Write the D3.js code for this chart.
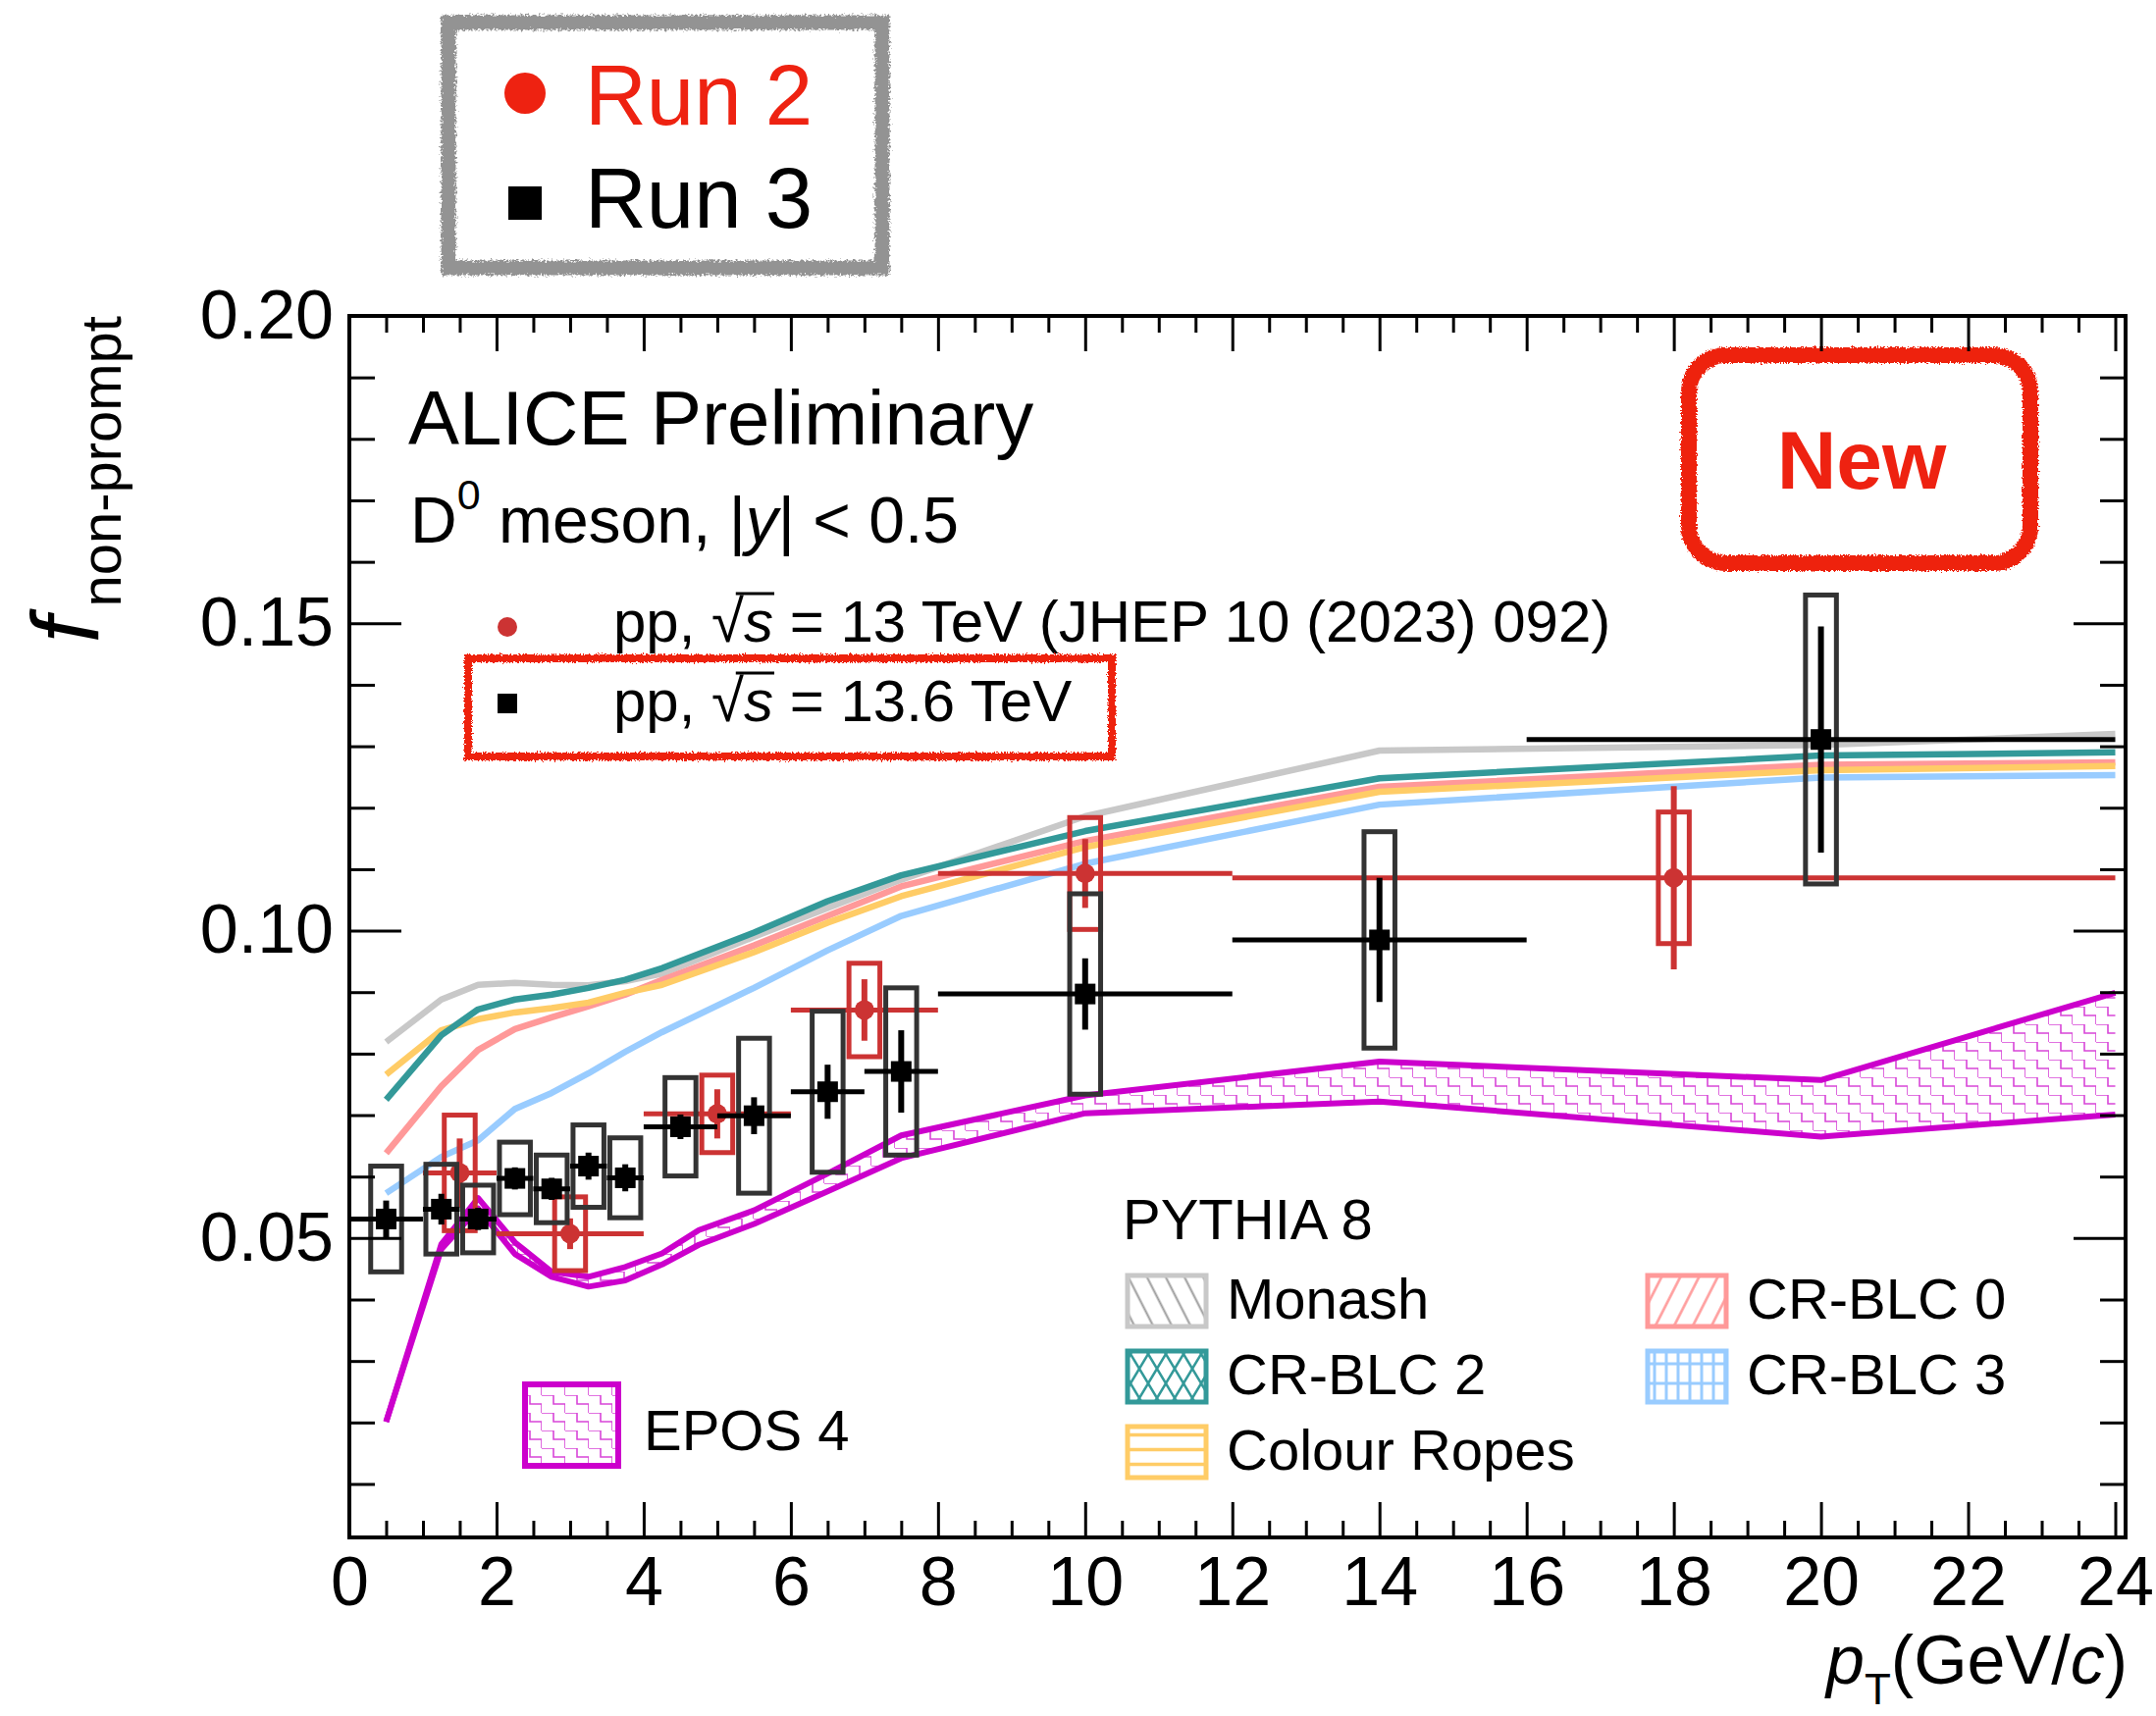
<!DOCTYPE html>
<html>
<head>
<meta charset="utf-8">
<title>Non-prompt D0 fraction vs pT</title>
<script src="https://cdn.jsdelivr.net/npm/d3@7/dist/d3.min.js"></script>
<style>
  html, body { margin: 0; padding: 0; background: #fff; }
  svg { display: block; }
  text { font-family: "Liberation Sans", Arimo, Helvetica, Arial, sans-serif; }
</style>
</head>
<body>
<svg id="chart" width="2197" height="1749"></svg>
<script>
// ---------------- measured non-prompt fractions ----------------
// pp, sqrt(s) = 13.6 TeV (Run 3)
const run3Pt   = [0.5, 1.25, 1.75, 2.25, 2.75, 3.25, 3.75, 4.5, 5.5, 6.5, 7.5, 10, 14, 20];
const run3PtLo = [0, 1, 1.5, 2, 2.5, 3, 3.5, 4, 5, 6, 7, 8, 12, 16];
const run3PtHi = [1, 1.5, 2, 2.5, 3, 3.5, 4, 5, 6, 7, 8, 12, 16, 24];
const run3Val  = [0.0531, 0.0547, 0.0531, 0.0597, 0.0580, 0.0617, 0.0598, 0.0681, 0.0699, 0.0738, 0.0771, 0.0897, 0.0985, 0.1311];
const run3Stat = [0.0030, 0.0025, 0.0018, 0.0018, 0.0018, 0.0022, 0.0022, 0.0020, 0.0030, 0.0044, 0.0067, 0.0058, 0.0101, 0.0184];
const run3Syst = [0.0086, 0.0073, 0.0055, 0.0059, 0.0055, 0.0067, 0.0065, 0.0080, 0.0126, 0.0131, 0.0136, 0.0163, 0.0176, 0.0235];

// pp, sqrt(s) = 13 TeV (Run 2, JHEP 10 (2023) 092)
const run2Pt   = [1.5, 3, 5, 7, 10, 18];
const run2PtLo = [1, 2, 4, 6, 8, 12];
const run2PtHi = [2, 4, 6, 8, 12, 24];
const run2Val  = [0.0606, 0.0507, 0.0702, 0.0871, 0.1093, 0.1086];
const run2Stat = [0.0056, 0.0025, 0.0040, 0.0050, 0.0056, 0.0149];
const run2Syst = [0.0094, 0.0060, 0.0063, 0.0076, 0.0091, 0.0107];

// ---------------- model predictions ----------------
const pythiaPt    = [0.5, 1.25, 1.75, 2.25, 2.75, 3.25, 3.75, 4.25, 5.5, 6.5, 7.5, 10, 14, 20, 24];
const monash      = [0.0819, 0.0888, 0.0912, 0.0915, 0.0912, 0.0911, 0.0918, 0.0930, 0.0990, 0.1037, 0.1083, 0.1186, 0.1293, 0.1302, 0.1320];
const crBlc0      = [0.0638, 0.0747, 0.0806, 0.0840, 0.0859, 0.0877, 0.0896, 0.0920, 0.0976, 0.1024, 0.1072, 0.1146, 0.1234, 0.1270, 0.1274];
const crBlc2      = [0.0725, 0.0830, 0.0872, 0.0888, 0.0896, 0.0907, 0.0920, 0.0939, 0.0997, 0.1048, 0.1090, 0.1162, 0.1248, 0.1285, 0.1290];
const crBlc3      = [0.0573, 0.0632, 0.0659, 0.0710, 0.0736, 0.0768, 0.0803, 0.0835, 0.0907, 0.0968, 0.1024, 0.1109, 0.1205, 0.1249, 0.1253];
const colourRopes = [0.0766, 0.0838, 0.0856, 0.0867, 0.0874, 0.0883, 0.0899, 0.0912, 0.0965, 0.1013, 0.1056, 0.1136, 0.1226, 0.1261, 0.1268];

const eposPt   = [0.5, 1.25, 1.75, 2.25, 2.75, 3.25, 3.75, 4.25, 4.75, 5.5, 6.5, 7.5, 10, 14, 20, 24];
const eposHigh = [0.0201, 0.0490, 0.0565, 0.0493, 0.0445, 0.0437, 0.0453, 0.0475, 0.0513, 0.0545, 0.0605, 0.0667, 0.0732, 0.0787, 0.0757, 0.0899];
const eposLow  = [0.0201, 0.0482, 0.0548, 0.0474, 0.0437, 0.0421, 0.0431, 0.0457, 0.0489, 0.0523, 0.0576, 0.0630, 0.0703, 0.0722, 0.0665, 0.0701];

// ---------------- axis ticks ----------------
const xMajorTicks = [0, 2, 4, 6, 8, 10, 12, 14, 16, 18, 20, 22, 24];
const yMajorTicks = [0.05, 0.10, 0.15, 0.20];

// ---------------- layout ----------------
const frame = { left: 356, right: 2166, top: 322, bottom: 1567 };
const svg = d3.select('#chart');
const x = d3.scaleLinear().domain([0, 24.14]).range([frame.left, frame.right]);
const y = d3.scaleLinear().domain([0.0013, 0.2]).range([frame.bottom, frame.top]);

const C = {
  monash: '#c8c8c8', blc0: '#ff9999', blc2: '#339999', blc3: '#99ccff', ropes: '#ffcc66',
  epos: '#cc00cc', run2: '#cc3333', run3: '#000000', box3: '#333333', mark: '#ee2211', gray: '#939393'
};

const defs = svg.append('defs');
defs.append('clipPath').attr('id', 'plotArea').append('rect')
  .attr('x', frame.left).attr('y', frame.top)
  .attr('width', frame.right - frame.left).attr('height', frame.bottom - frame.top);

// hatch patterns used by the model bands and legend swatches
function lineHatch(id, size, angle, color, width) {
  const p = defs.append('pattern').attr('id', id).attr('patternUnits', 'userSpaceOnUse')
    .attr('width', size).attr('height', size).attr('patternTransform', `rotate(${angle})`);
  p.append('rect').attr('width', size).attr('height', size).attr('fill', '#fff');
  p.append('line').attr('x1', size / 2).attr('x2', size / 2).attr('y1', 0).attr('y2', size)
    .attr('stroke', color).attr('stroke-width', width);
}
lineHatch('hMonash', 17, -27, '#9a9a9a', 2);
lineHatch('hBlc0', 17, 27, '#ff9999', 2.5);
{
  const p = defs.append('pattern').attr('id', 'hBlc2').attr('patternUnits', 'userSpaceOnUse')
    .attr('width', 18).attr('height', 30);
  p.append('rect').attr('width', 18).attr('height', 30).attr('fill', '#fff');
  p.append('path').attr('d', 'M0,0 L18,30 M18,0 L0,30').attr('stroke', C.blc2).attr('stroke-width', 2.5).attr('fill', 'none');
}
{
  const p = defs.append('pattern').attr('id', 'hBlc3').attr('patternUnits', 'userSpaceOnUse')
    .attr('width', 12).attr('height', 20);
  p.append('rect').attr('width', 12).attr('height', 20).attr('fill', '#fff');
  p.append('path').attr('d', 'M6,0 V20 M0,10 H12').attr('stroke', C.blc3).attr('stroke-width', 3).attr('fill', 'none');
}
{
  const p = defs.append('pattern').attr('id', 'hRopes').attr('patternUnits', 'userSpaceOnUse')
    .attr('width', 10).attr('height', 15);
  p.append('rect').attr('width', 10).attr('height', 15).attr('fill', '#fff');
  p.append('path').attr('d', 'M0,7.5 H10').attr('stroke', C.ropes).attr('stroke-width', 3.5);
}
{
  const p = defs.append('pattern').attr('id', 'hEpos').attr('patternUnits', 'userSpaceOnUse')
    .attr('width', 24).attr('height', 18);
  p.append('path').attr('d', 'M0,0 H12 V9 H24 V18').attr('stroke', '#d845d8').attr('stroke-width', 1.6).attr('fill', 'none');
}

// hand-drawn look for the annotation boxes
function roughFilter(id, freq, scale, seed) {
  const f = defs.append('filter').attr('id', id).attr('x', '-5%').attr('y', '-8%').attr('width', '110%').attr('height', '116%');
  f.append('feTurbulence').attr('type', 'fractalNoise').attr('baseFrequency', freq)
    .attr('numOctaves', 2).attr('seed', seed).attr('result', 'noise');
  f.append('feDisplacementMap').attr('in', 'SourceGraphic').attr('in2', 'noise')
    .attr('scale', scale).attr('xChannelSelector', 'R').attr('yChannelSelector', 'G');
}
roughFilter('roughA', 0.45, 8, 3);
roughFilter('roughB', 0.55, 6, 7);

// ---------------- annotation boxes above / inside the frame ----------------
svg.append('rect').attr('x', 457).attr('y', 23).attr('width', 442).attr('height', 250)
  .attr('fill', 'none').attr('stroke', C.gray).attr('stroke-width', 15).attr('filter', 'url(#roughA)');
svg.append('circle').attr('cx', 535).attr('cy', 95).attr('r', 21).attr('fill', C.mark);
svg.append('text').attr('x', 596).attr('y', 127).attr('font-size', 87).attr('fill', C.mark).text('Run 2');
svg.append('rect').attr('x', 518).attr('y', 190).attr('width', 34).attr('height', 34).attr('fill', '#000');
svg.append('text').attr('x', 596).attr('y', 232).attr('font-size', 87).attr('fill', '#000').text('Run 3');

svg.append('rect').attr('x', 1721).attr('y', 362).attr('width', 348).attr('height', 212).attr('rx', 38)
  .attr('fill', 'none').attr('stroke', C.mark).attr('stroke-width', 16).attr('filter', 'url(#roughB)');
svg.append('text').attr('x', 1897).attr('y', 498).attr('text-anchor', 'middle').attr('font-size', 84)
  .attr('font-weight', 'bold').attr('fill', C.mark).text('New');

// ---------------- model curves ----------------
const plot = svg.append('g').attr('clip-path', 'url(#plotArea)');
const line = d3.line().x(d => x(d[0])).y(d => y(d[1]));

const eposPts = eposPt.map((p, i) => ({ p, lo: eposLow[i], hi: eposHigh[i] }));
plot.append('path').datum(eposPts)
  .attr('d', d3.area().x(d => x(d.p)).y0(d => y(d.lo)).y1(d => y(d.hi)))
  .attr('fill', 'url(#hEpos)').attr('stroke', 'none');
[eposHigh, eposLow].forEach(arr => {
  plot.append('path').datum(eposPt.map((p, i) => [p, arr[i]])).attr('d', line)
    .attr('fill', 'none').attr('stroke', C.epos).attr('stroke-width', 6).attr('stroke-linejoin', 'round');
});

const pythiaCurves = [
  { vals: monash, color: C.monash },
  { vals: crBlc3, color: C.blc3 },
  { vals: crBlc0, color: C.blc0 },
  { vals: colourRopes, color: C.ropes },
  { vals: crBlc2, color: C.blc2 }
];
pythiaCurves.forEach(c => {
  plot.append('path').datum(pythiaPt.map((p, i) => [p, c.vals[i]])).attr('d', line)
    .attr('fill', 'none').attr('stroke', c.color).attr('stroke-width', 6.5).attr('stroke-linejoin', 'round');
});

// ---------------- data points ----------------
const boxHalf = 0.21;   // half width of systematic boxes in pT units
function drawSeries(pt, lo, hi, val, stat, syst, col, boxCol, marker) {
  const g = plot.append('g');
  pt.forEach((p, i) => {
    g.append('rect').attr('x', x(p - boxHalf)).attr('width', x(p + boxHalf) - x(p - boxHalf))
      .attr('y', y(val[i] + syst[i])).attr('height', y(val[i] - syst[i]) - y(val[i] + syst[i]))
      .attr('fill', 'none').attr('stroke', boxCol).attr('stroke-width', 5);
    g.append('line').attr('x1', x(lo[i])).attr('x2', x(hi[i])).attr('y1', y(val[i])).attr('y2', y(val[i]))
      .attr('stroke', col).attr('stroke-width', 5);
    g.append('line').attr('x1', x(p)).attr('x2', x(p)).attr('y1', y(val[i] - stat[i])).attr('y2', y(val[i] + stat[i]))
      .attr('stroke', col).attr('stroke-width', 6);
    if (marker === 'circle') {
      g.append('circle').attr('cx', x(p)).attr('cy', y(val[i])).attr('r', 10).attr('fill', col);
    } else {
      g.append('rect').attr('x', x(p) - 10.5).attr('y', y(val[i]) - 10.5).attr('width', 21).attr('height', 21).attr('fill', col);
    }
  });
}
drawSeries(run2Pt, run2PtLo, run2PtHi, run2Val, run2Stat, run2Syst, C.run2, C.run2, 'circle');
drawSeries(run3Pt, run3PtLo, run3PtHi, run3Val, run3Stat, run3Syst, C.run3, C.box3, 'square');

// ---------------- axes (ticks inside the frame, mirrored on top / right) ----------------
const xMinor = d3.range(0, 24.01, 0.5).filter(v => !xMajorTicks.includes(v));
const yMinor = d3.range(1, 20).map(v => v / 100).filter(v => !yMajorTicks.some(t => Math.abs(t - v) < 1e-9));

function styleAxis(g) {
  g.select('.domain').remove();
  g.selectAll('.tick line').attr('stroke', '#000').attr('stroke-width', 3);
  g.attr('font-size', 70).attr('font-family', '"Liberation Sans", Arimo, Helvetica, Arial, sans-serif');
  g.selectAll('.tick text').attr('fill', '#000');
}
const fmtX = d3.format('d'), fmtY = d3.format('.2f');

svg.append('g').attr('transform', `translate(0,${frame.bottom})`)
  .call(d3.axisBottom(x).tickValues(xMajorTicks).tickSize(-36).tickPadding(19).tickFormat(fmtX)).call(styleAxis);
svg.append('g').attr('transform', `translate(0,${frame.bottom})`)
  .call(d3.axisBottom(x).tickValues(xMinor).tickSize(-17).tickFormat('')).call(styleAxis);
svg.append('g').attr('transform', `translate(0,${frame.top})`)
  .call(d3.axisTop(x).tickValues(xMajorTicks).tickSize(-36).tickFormat('')).call(styleAxis);
svg.append('g').attr('transform', `translate(0,${frame.top})`)
  .call(d3.axisTop(x).tickValues(xMinor).tickSize(-17).tickFormat('')).call(styleAxis);

svg.append('g').attr('transform', `translate(${frame.left},0)`)
  .call(d3.axisLeft(y).tickValues(yMajorTicks).tickSize(-53).tickPadding(16).tickFormat(fmtY)).call(styleAxis);
svg.append('g').attr('transform', `translate(${frame.left},0)`)
  .call(d3.axisLeft(y).tickValues(yMinor).tickSize(-26).tickFormat('')).call(styleAxis);
svg.append('g').attr('transform', `translate(${frame.right},0)`)
  .call(d3.axisRight(y).tickValues(yMajorTicks).tickSize(-53).tickFormat('')).call(styleAxis);
svg.append('g').attr('transform', `translate(${frame.right},0)`)
  .call(d3.axisRight(y).tickValues(yMinor).tickSize(-26).tickFormat('')).call(styleAxis);

svg.append('rect').attr('x', frame.left).attr('y', frame.top)
  .attr('width', frame.right - frame.left).attr('height', frame.bottom - frame.top)
  .attr('fill', 'none').attr('stroke', '#000').attr('stroke-width', 4);

// axis titles
const xt = svg.append('text').attr('x', frame.right + 2).attr('y', 1716).attr('text-anchor', 'end').attr('font-size', 70);
xt.append('tspan').attr('font-style', 'italic').text('p');
xt.append('tspan').attr('font-size', 44).attr('dy', 21).text('T');
xt.append('tspan').attr('dy', -21).text('(GeV/');
xt.append('tspan').attr('font-style', 'italic').text('c');
xt.append('tspan').text(')');

const yt = svg.append('text').attr('transform', `translate(100,${frame.top}) rotate(-90)`)
  .attr('text-anchor', 'end').attr('font-size', 96);
yt.append('tspan').attr('font-style', 'italic').text('f');
yt.append('tspan').attr('font-size', 58).attr('dy', 23).attr('dx', 10).text('non-prompt');

// ---------------- labels inside the frame ----------------
svg.append('text').attr('x', 416).attr('y', 453).attr('font-size', 78).text('ALICE Preliminary');
const dm = svg.append('text').attr('x', 418).attr('y', 553).attr('font-size', 66);
dm.append('tspan').text('D');
dm.append('tspan').attr('font-size', 43).attr('dy', -34).text('0');
dm.append('tspan').attr('dy', 34).text(' meson, |');
dm.append('tspan').attr('font-style', 'italic').text('y');
dm.append('tspan').text('| < 0.5');

function sqrtsEntry(yBase, rest) {
  const t = svg.append('text').attr('x', 625).attr('y', yBase).attr('font-size', 60);
  t.append('tspan').text('pp, ');
  t.append('tspan').text('\u221A');
  t.append('tspan').attr('font-style', 'italic').text('s');
  t.append('tspan').text(rest);
  const node = t.node();
  const r = node.getExtentOfChar(4), s = node.getExtentOfChar(5);
  svg.append('line').attr('x1', r.x + r.width * 0.75).attr('x2', s.x + s.width + 1)
    .attr('y1', yBase - 49).attr('y2', yBase - 49).attr('stroke', '#000').attr('stroke-width', 3);
}
svg.append('circle').attr('cx', 517).attr('cy', 639).attr('r', 10).attr('fill', C.run2);
sqrtsEntry(654, ' = 13 TeV (JHEP 10 (2023) 092)');
svg.append('rect').attr('x', 507).attr('y', 707).attr('width', 20).attr('height', 20).attr('fill', '#000');
sqrtsEntry(735, ' = 13.6 TeV');
svg.append('rect').attr('x', 477).attr('y', 671).attr('width', 656).attr('height', 100)
  .attr('fill', 'none').attr('stroke', C.mark).attr('stroke-width', 8).attr('filter', 'url(#roughB)');

// ---------------- model legends ----------------
svg.append('text').attr('x', 1144).attr('y', 1263).attr('font-size', 58).text('PYTHIA 8');
const legendItems = [
  { name: 'Monash', fill: 'url(#hMonash)', stroke: C.monash, col: 0, row: 0 },
  { name: 'CR-BLC 0', fill: 'url(#hBlc0)', stroke: C.blc0, col: 1, row: 0 },
  { name: 'CR-BLC 2', fill: 'url(#hBlc2)', stroke: C.blc2, col: 0, row: 1 },
  { name: 'CR-BLC 3', fill: 'url(#hBlc3)', stroke: C.blc3, col: 1, row: 1 },
  { name: 'Colour Ropes', fill: 'url(#hRopes)', stroke: C.ropes, col: 0, row: 2 }
];
legendItems.forEach(it => {
  const bx = it.col === 0 ? 1149 : 1679, by = 1300 + it.row * 77;
  svg.append('rect').attr('x', bx).attr('y', by).attr('width', 80).attr('height', 52)
    .attr('fill', it.fill).attr('stroke', it.stroke).attr('stroke-width', 5);
  svg.append('text').attr('x', bx + 101).attr('y', by + 44).attr('font-size', 58).text(it.name);
});
svg.append('rect').attr('x', 535).attr('y', 1411).attr('width', 95).attr('height', 83)
  .attr('fill', 'url(#hEpos)').attr('stroke', C.epos).attr('stroke-width', 6);
svg.append('text').attr('x', 656).attr('y', 1478).attr('font-size', 58).text('EPOS 4');
</script>
</body>
</html>
